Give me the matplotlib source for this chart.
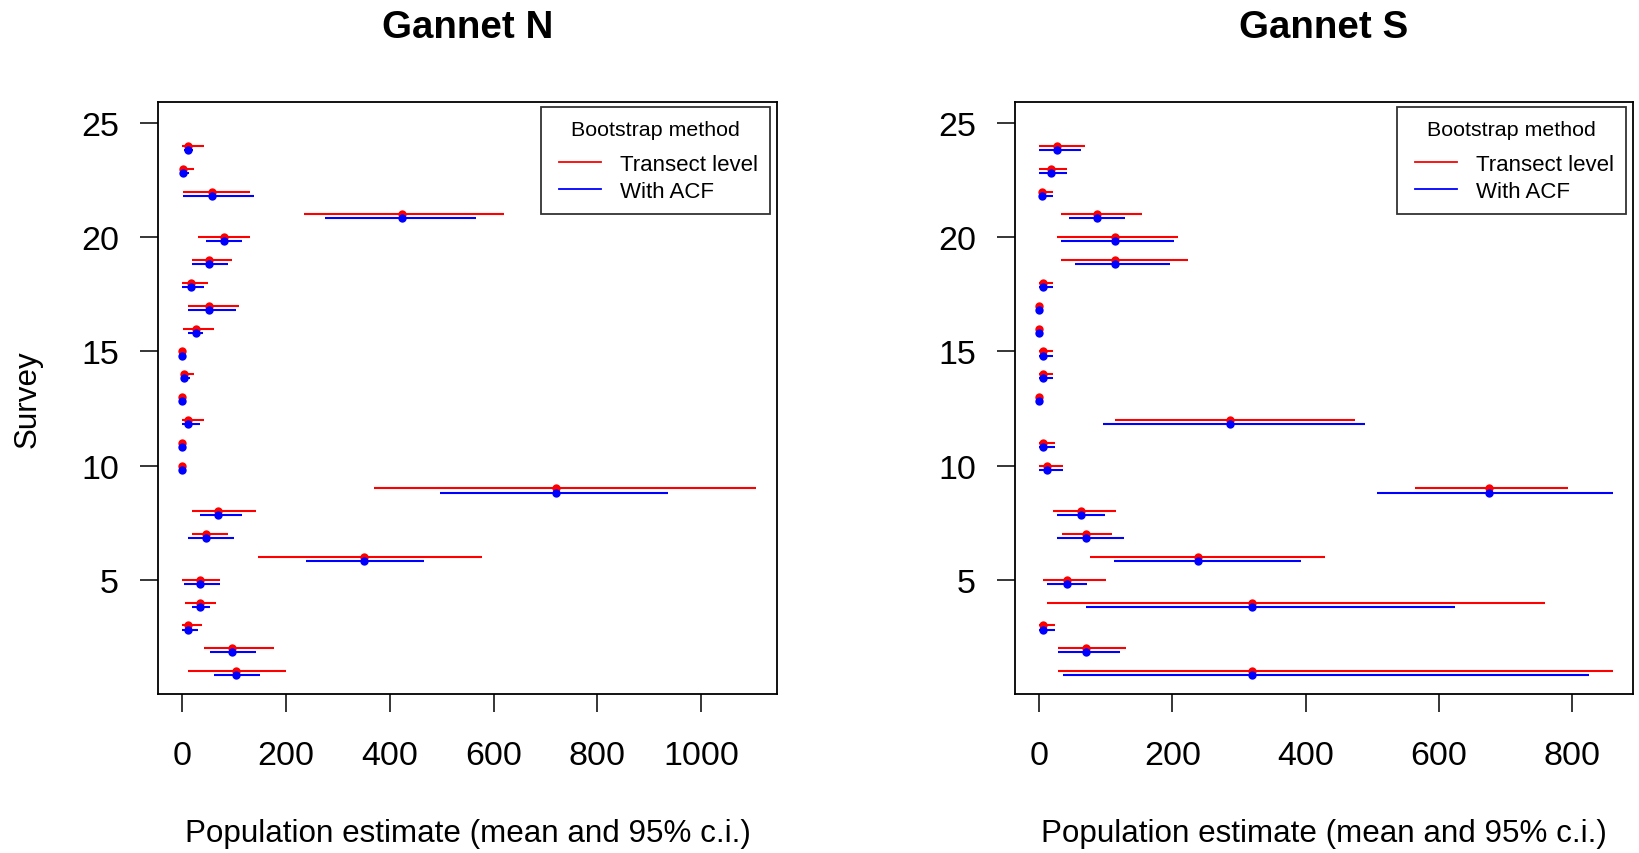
import numpy as np
import matplotlib
matplotlib.use("Agg")
import matplotlib.pyplot as plt
from matplotlib.lines import Line2D
from matplotlib.legend_handler import HandlerLine2D

plt.rcParams["font.family"] = ["Liberation Sans", "DejaVu Sans"]

surveys = list(range(1, 25))

# Gannet N (surveys 1..24)
n_mean = [103, 95, 10, 33, 33, 350, 45, 68, 720, 0, 0, 10,
          0, 3, 0, 26, 52, 17, 52, 80, 424, 57, 2, 10]
n_tr_lo = [10, 41, 0, 6, 0, 146, 18, 18, 370, 0, 0, 0,
           0, 0, 0, 2, 10, 0, 18, 30, 235, 2, 0, 0]
n_tr_hi = [199, 176, 37, 64, 72, 577, 87, 141, 1105, 0, 0, 41,
           0, 22, 0, 60, 110, 49, 95, 130, 620, 130, 22, 41]
n_acf_lo = [60, 53, 0, 18, 3, 239, 10, 33, 497, 0, 0, 0,
            0, 0, 0, 11, 10, 0, 18, 45, 274, 2, 0, 3]
n_acf_hi = [149, 141, 30, 53, 72, 465, 99, 114, 936, 0, 0, 33,
            0, 14, 0, 40, 103, 41, 87, 114, 565, 138, 13, 20]

# Gannet S (surveys 1..24)
s_mean = [319, 70, 5, 319, 42, 238, 70, 63, 676, 11, 5, 286,
          0, 5, 5, 0, 0, 5, 113, 113, 86, 4, 17, 26]
s_tr_lo = [28, 28, 0, 11, 5, 76, 34, 21, 565, 0, 0, 113,
           0, 0, 0, 0, 0, 0, 32, 26, 32, 0, 0, 0]
s_tr_hi = [862, 130, 23, 760, 100, 430, 109, 115, 794, 35, 23, 475,
           0, 20, 20, 0, 0, 20, 224, 209, 155, 20, 41, 68]
s_acf_lo = [35, 28, 0, 70, 11, 112, 27, 27, 508, 0, 0, 95,
            0, 0, 0, 0, 0, 0, 53, 32, 44, 0, 0, 0]
s_acf_hi = [826, 121, 23, 625, 72, 393, 128, 99, 862, 35, 23, 490,
            0, 20, 20, 0, 0, 20, 197, 203, 129, 20, 41, 63]

panel_titles = ["Gannet N", "Gannet S"]
legend_labels = ["Transect level", "With ACF"]
legend_title = "Bootstrap method"
xlabel = "Population estimate (mean and 95% c.i.)"
ylabel = "Survey"

RED = "#FF0000"
BLUE = "#0000FF"
ACF_OFFSET = 0.18


def draw_panel(ax, mean, tr_lo, tr_hi, acf_lo, acf_hi, title, xlim, xticks):
    y = np.array(surveys, dtype=float)
    ax.hlines(y, tr_lo, tr_hi, color=RED, lw=1.5)
    ax.plot(mean, y, "o", color=RED, ms=6, mew=0)
    ax.hlines(y - ACF_OFFSET, acf_lo, acf_hi, color=BLUE, lw=1.5)
    ax.plot(mean, y - ACF_OFFSET, "o", color=BLUE, ms=6, mew=0)

    ax.set_xlim(*xlim)
    ax.set_ylim(0, 25.92)
    ax.set_xticks(xticks)
    ax.set_yticks([5, 10, 15, 20, 25])
    ax.tick_params(axis="both", direction="out", length=13, width=1.1, labelsize=24.5)
    ax.tick_params(axis="x", pad=20)
    ax.tick_params(axis="y", pad=15)
    for sp in ax.spines.values():
        sp.set_linewidth(1.3)

    ax.set_title(title, fontsize=27.7, fontweight="bold", pad=47)
    ax.set_xlabel(xlabel, fontsize=22.6)
    ax.xaxis.set_label_coords(0.5, -0.209)

    # legend: R-style box, extra room left of the line handles
    handles = [Line2D([], [], color=RED, lw=1.3), Line2D([], [], color=BLUE, lw=1.3)]
    hmap = {h: HandlerLine2D(xpad=0.25) for h in handles}
    leg = ax.legend(handles, legend_labels, title=legend_title, loc="upper right",
                    bbox_to_anchor=(0.989, 0.991), borderaxespad=0, fontsize=16,
                    title_fontsize=15.4, frameon=True, fancybox=False,
                    handlelength=2.15, handletextpad=0.85, labelspacing=0.26,
                    borderpad=0.55, handler_map=hmap)
    leg._legend_box.sep = 11
    leg.get_frame().set_edgecolor("black")
    leg.get_frame().set_linewidth(1.3)


fig = plt.figure(figsize=(16.4, 8.54), dpi=100)
ax1 = fig.add_axes([158 / 1640, 159 / 854, 619 / 1640, 592 / 854])
ax2 = fig.add_axes([1015 / 1640, 159 / 854, 618 / 1640, 592 / 854])

draw_panel(ax1, n_mean, n_tr_lo, n_tr_hi, n_acf_lo, n_acf_hi,
           panel_titles[0], (-47, 1146), [0, 200, 400, 600, 800, 1000])
draw_panel(ax2, s_mean, s_tr_lo, s_tr_hi, s_acf_lo, s_acf_hi,
           panel_titles[1], (-36.5, 892), [0, 200, 400, 600, 800])

ax1.set_ylabel(ylabel, fontsize=22.6)
ax1.yaxis.set_label_coords(-0.187, 0.5)

fig.savefig("out.png", dpi=100)
